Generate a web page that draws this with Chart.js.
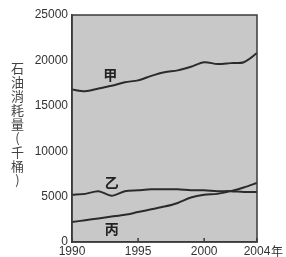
<!DOCTYPE html>
<html><head><meta charset="utf-8">
<script src="https://cdn.jsdelivr.net/npm/chart.js@4"></script>
<style>
html,body{margin:0;padding:0;background:#fff;}
#wrap{position:relative;width:286px;height:257px;}
#yt{position:absolute;left:11px;top:62px;writing-mode:vertical-rl;text-orientation:upright;font:13px "Noto Sans CJK TC";color:#444;letter-spacing:1px;line-height:1;}
#xt{position:absolute;left:271px;top:242px;font:12px "Noto Sans CJK TC";color:#333;}
</style></head>
<body><div id="wrap"><canvas id="c" width="286" height="257"></canvas>
<div id="yt">石油消耗量(千桶)</div><div id="xt">年</div></div>
<script>
const years = [1990,1991,1992,1993,1994,1995,1996,1997,1998,1999,2000,2001,2002,2003,2004];
const jia  = [16800,16600,16900,17200,17600,17800,18300,18700,18900,19300,19800,19600,19700,19800,20800];
const yi   = [5200,5300,5600,5100,5600,5700,5800,5800,5800,5700,5700,5600,5600,5500,5500];
const bing = [2200,2400,2600,2800,3000,3300,3600,3900,4300,4900,5200,5300,5600,6000,6500];
const xTicks = [1990,1995,2000,2004];
const seriesLabels = [
  {text:'甲', x:1992.9, y:18400},
  {text:'乙', x:1993.0, y:6500},
  {text:'丙', x:1993.0, y:1500}
];
const toPts = v => years.map((yr,i)=>({x:yr,y:v[i]}));
const lineStyle = {borderColor:'#2b2b2b',borderWidth:2,pointRadius:0,tension:0.3,fill:false};
const bgPlugin = {
  id:'bg',
  beforeDraw(ch){
    const a=ch.chartArea, c=ch.ctx;
    c.save(); c.fillStyle='#c8c8c8'; c.fillRect(a.left,a.top,a.right-a.left,a.bottom-a.top); c.restore();
  },
  afterDatasetsDraw(ch){
    const a=ch.chartArea, c=ch.ctx, xs=ch.scales.x, ys=ch.scales.y;
    c.save();
    c.strokeStyle='#3a3a3a'; c.lineWidth=1.5;
    c.strokeRect(a.left,a.top,a.right-a.left,a.bottom-a.top);
    c.beginPath();
    xTicks.forEach(v=>{const px=xs.getPixelForValue(v); c.moveTo(px,a.bottom); c.lineTo(px,a.bottom-4);});
    c.stroke();
    c.font='bold 14px "Noto Sans CJK TC"'; c.fillStyle='#222'; c.textAlign='center'; c.textBaseline='middle';
    seriesLabels.forEach(l=>c.fillText(l.text, xs.getPixelForValue(l.x), ys.getPixelForValue(l.y)));
    c.restore();
  }
};
new Chart(document.getElementById('c'),{
  type:'line',
  data:{datasets:[
    Object.assign({label:'甲',data:toPts(jia)},lineStyle),
    Object.assign({label:'乙',data:toPts(yi)},lineStyle),
    Object.assign({label:'丙',data:toPts(bing)},lineStyle)
  ]},
  options:{
    responsive:false,animation:false,
    layout:{padding:{left:0,right:29,top:15,bottom:0}},
    plugins:{legend:{display:false},tooltip:{enabled:false}},
    scales:{
      x:{type:'linear',min:1990,max:2004,
        afterBuildTicks(s){s.ticks=xTicks.map(v=>({value:v}));},
        afterFit(s){s.height=15;},
        grid:{display:false,drawTicks:false},border:{display:true,color:'#3a3a3a',width:1.5},
        ticks:{padding:2,color:'#333',font:{family:'Liberation Sans',size:12},maxRotation:0,autoSkip:false,callback:v=>String(v)}},
      y:{min:0,max:25000,
        afterFit(s){s.width=72;},
        grid:{display:false,drawTicks:true,tickLength:3,color:'#3a3a3a'},border:{display:true,color:'#3a3a3a',width:1.5},
        ticks:{stepSize:5000,padding:1,color:'#333',font:{family:'Liberation Sans',size:12},callback:v=>String(v)}}
    }
  },
  plugins:[bgPlugin]
});
</script></body></html>
